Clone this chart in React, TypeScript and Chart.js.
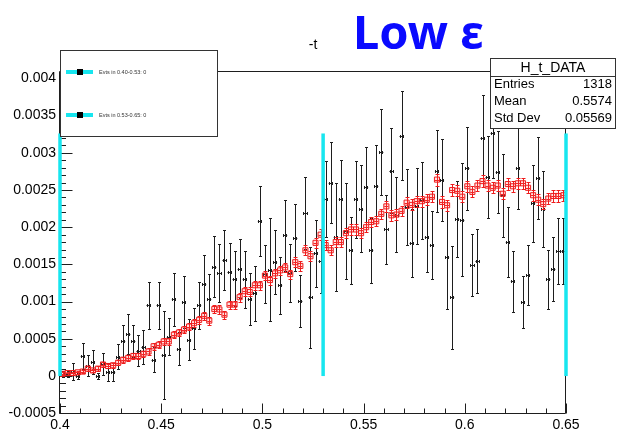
import React, { useEffect, useRef } from "react";
import { Chart, registerables } from "chart.js";

Chart.register(...registerables);

// Histogram binning of -t
const X_MIN = 0.4;
const X_MAX = 0.65;
const N_BINS = 100;
const Y_MIN = -0.00051;
const Y_MAX = 0.004086;
// bin contents below are stored in units of 1e-4
const UNIT = 1e-4;

// simulated distribution (red)
const MC_VALUES = [
  0.3, 0.4, 0.4, 0.5, 0.6, 1.0, 0.75, 1.0, 1.55, 1.35,
  1.45, 1.8, 2.2, 2.45, 2.7, 2.7, 3.0, 3.3, 4.0, 4.2,
  4.65, 4.65, 5.55, 5.85, 6.25, 6.65, 7.1, 7.55, 8.1, 7.45,
  9.0, 8.95, 8.25, 9.6, 9.6, 10.6, 11.4, 11.3, 12.2, 12.2,
  13.5, 12.9, 13.8, 14.2, 14.6, 13.7, 15.3, 14.8, 16.9, 16.1,
  17.9, 19.0, 17.6, 16.9, 18.0, 18.0, 19.2, 19.7, 19.7, 19.2,
  20.0, 20.7, 20.8, 21.8, 22.8, 21.6, 21.7, 22.2, 23.3, 23.0,
  23.5, 23.5, 23.7, 24.1, 26.4, 23.4, 22.95, 25.0, 24.9, 24.1,
  25.5, 24.75, 25.6, 26.2, 25.6, 25.3, 25.6, 24.5, 25.8, 25.5,
  25.9, 25.9, 25.3, 24.3, 23.7, 23.1, 23.85, 24.2, 24.2, 24.3,
];
const MC_ERRORS = [
  0.2, 0.2, 0.2, 0.2, 0.25, 0.3, 0.25, 0.3, 0.35, 0.3,
  0.35, 0.35, 0.4, 0.4, 0.4, 0.4, 0.4, 0.45, 0.45, 0.45,
  0.45, 0.45, 0.5, 0.5, 0.5, 0.5, 0.5, 0.55, 0.55, 0.55,
  0.55, 0.55, 0.55, 0.55, 0.55, 0.6, 0.6, 0.6, 0.6, 0.6,
  0.6, 0.6, 0.6, 0.65, 0.65, 0.6, 0.65, 0.65, 0.65, 0.65,
  0.65, 0.7, 0.65, 0.65, 0.65, 0.65, 0.7, 0.7, 0.7, 0.7,
  0.7, 0.7, 0.7, 0.7, 0.75, 0.7, 0.7, 0.7, 0.75, 0.75,
  0.75, 0.75, 0.75, 0.75, 0.8, 0.75, 0.75, 0.75, 0.75, 0.75,
  0.75, 0.75, 0.75, 0.8, 0.75, 0.75, 0.75, 0.75, 0.75, 0.75,
  0.75, 0.75, 0.75, 0.75, 0.75, 0.7, 0.75, 0.75, 0.75, 0.75,
];

// measured distribution (black)
const DATA_VALUES = [
  0.3, 0.3, 0.6, 0.0, 2.7, 1.4, 1.9, 0.0, 1.6, 0.5,
  0.5, 2.6, 4.7, 5.6, 4.7, 3.4, 3.9, 9.5, 2.2, 9.5,
  2.8, 5.3, 10.3, 3.7, 9.9, 4.9, 6.4, 9.5, 12.4, 10.3,
  14.7, 13.9, 15.6, 14.0, 13.1, 14.45, 13.0, 10.4, 11.1, 20.8,
  13.7, 14.3, 15.3, 12.2, 18.9, 13.8, 18.6, 10.1, 21.9, 10.6,
  16.5, 15.5, 23.8, 26.0, 18.7, 23.75, 19.5, 16.9, 23.75, 22.5,
  25.4, 16.9, 25.6, 30.1, 19.7, 27.6, 21.7, 32.3, 22.7, 17.9,
  22.8, 23.6, 18.7, 17.6, 27.6, 26.4, 16.0, 10.6, 21.1, 21.0,
  27.9, 14.9, 15.5, 32.0, 26.8, 32.6, 27.4, 24.3, 18.0, 12.75,
  28.0, 10.0, 13.6, 23.2, 26.6, 22.5, 13.0, 14.4, 16.8, 16.8,
];
const DATA_ERRORS = [
  0.4, 0.4, 1.1, 0.4, 1.7, 1.45, 1.6, 0.4, 1.45, 1.2,
  1.2, 1.7, 2.2, 2.7, 2.2, 2.1, 2.3, 3.2, 1.7, 3.2,
  5.9, 2.5, 3.6, 2.2, 3.5, 2.8, 2.7, 3.2, 3.9, 3.4,
  4.1, 3.9, 4.0, 3.9, 3.7, 4.0, 3.8, 3.5, 3.7, 4.7,
  3.9, 6.9, 4.3, 3.8, 4.8, 3.9, 4.5, 3.5, 4.8, 6.8,
  4.5, 4.3, 5.1, 5.4, 7.3, 5.3, 6.5, 4.5, 5.2, 5.8,
  5.4, 4.4, 5.4, 5.8, 4.6, 5.7, 5.0, 6.0, 5.1, 4.6,
  5.1, 5.2, 4.7, 4.6, 5.5, 5.5, 7.0, 6.9, 5.1, 7.6,
  5.6, 4.2, 4.3, 5.8, 5.5, 6.0, 5.5, 5.6, 4.7, 4.1,
  5.6, 3.5, 4.0, 5.2, 5.5, 5.1, 4.0, 4.25, 4.4, 4.4,
];

const X_TICKS = [0.4, 0.45, 0.5, 0.55, 0.6, 0.65];
const X_TICK_LABELS = ["0.4", "0.45", "0.5", "0.55", "0.6", "0.65"];
const Y_TICKS = [-0.0005, 0, 0.0005, 0.001, 0.0015, 0.002, 0.0025, 0.003, 0.0035, 0.004];
const Y_TICK_LABELS = ["-0.0005", "0", "0.0005", "0.001", "0.0015", "0.002", "0.0025", "0.003", "0.0035", "0.004"];

// -t range boundaries marked with vertical lines
const CUT_EDGES = [0.4, 0.53, 0.65];
const CUT_LINE_TOP = 0.00326;

const LEGEND_LABELS = ["Evts in 0.40-0.53: 0", "Evts in 0.53-0.65: 0"];
const STATS_TITLE = "H_t_DATA";
const STATS_ROWS = [
  ["Entries", "1318"],
  ["Mean", "0.5574"],
  ["Std Dev", "0.05569"],
];
const AXIS_TITLE = "-t";
const HEADLINE = "Low ε";

const BIN_WIDTH = (X_MAX - X_MIN) / N_BINS;
const BIN_CENTERS = Array.from({ length: N_BINS }, (_, i) => X_MIN + (i + 0.5) * BIN_WIDTH);

const FONT = "'Liberation Sans', Arial, Helvetica, sans-serif";
const CYAN = "#17e6ef";
const RED = "#ee1c1c";
const INK = "#1e1e1e";

const snap = (v: number) => Math.round(v) + 0.5;

// Draws ROOT-style error bars (vertical +-err, horizontal bin width) for datasets carrying errors
const errorBarPlugin = {
  id: "errorBars",
  beforeDatasetDraw(chart: any, args: any) {
    const ds = chart.data.datasets[args.index];
    if (!ds.errors) return;
    const xs = chart.scales.x;
    const ys = chart.scales.y;
    const ctx = chart.ctx;
    ctx.save();
    ctx.strokeStyle = ds.errColor;
    ctx.lineWidth = 1;
    ctx.beginPath();
    ds.data.forEach((p: any, i: number) => {
      const e = ds.errors[i];
      const px = snap(xs.getPixelForValue(p.x));
      const x0 = xs.getPixelForValue(p.x - BIN_WIDTH / 2);
      const x1 = xs.getPixelForValue(p.x + BIN_WIDTH / 2);
      const py = snap(ys.getPixelForValue(p.y));
      const top = snap(ys.getPixelForValue(p.y + e));
      const bot = snap(ys.getPixelForValue(p.y - e));
      const cap = ds.capHalf;
      ctx.moveTo(x0 + 0.5, py);
      ctx.lineTo(x1 - 0.5, py);
      if (ds.endTicks) {
        ctx.moveTo(snap(x0 + 0.6), py - 1.5);
        ctx.lineTo(snap(x0 + 0.6), py + 1.5);
        ctx.moveTo(snap(x1 - 1.4), py - 1.5);
        ctx.lineTo(snap(x1 - 1.4), py + 1.5);
      }
      ctx.moveTo(px, top);
      ctx.lineTo(px, bot);
      ctx.moveTo(px - cap, top);
      ctx.lineTo(px + cap, top);
      ctx.moveTo(px - cap, bot);
      ctx.lineTo(px + cap, bot);
    });
    ctx.stroke();
    ctx.restore();
  },
};

// Frame with inward-pointing major/minor tick marks
const framePlugin = {
  id: "rootFrame",
  beforeDatasetsDraw(chart: any) {
    const { ctx, chartArea } = chart;
    const xs = chart.scales.x;
    const ys = chart.scales.y;
    const l = snap(chartArea.left) - 1;
    const r = snap(chartArea.right) - 1;
    const t = snap(chartArea.top) - 1;
    const b = snap(chartArea.bottom) - 1;
    ctx.save();
    ctx.strokeStyle = INK;
    ctx.lineWidth = 1;
    ctx.beginPath();
    ctx.rect(l, t, r - l, b - t);
    for (let k = 40; k <= 65; k++) {
      const px = snap(xs.getPixelForValue(k / 100));
      const len = k % 5 === 0 ? 10 : 5;
      ctx.moveTo(px, b);
      ctx.lineTo(px, b - len);
    }
    for (let k = -5; k <= 40; k++) {
      const py = snap(ys.getPixelForValue(k * 1e-4));
      const len = k % 5 === 0 ? 13 : 6.5;
      ctx.moveTo(l, py);
      ctx.lineTo(l + len, py);
    }
    ctx.stroke();
    ctx.restore();
  },
};

// Legend box, statistics box and titles
const overlayPlugin = {
  id: "overlays",
  afterDraw(chart: any) {
    const ctx = chart.ctx;
    ctx.save();

    // legend
    ctx.fillStyle = "#ffffff";
    ctx.fillRect(60, 50, 158, 87);
    ctx.strokeStyle = "#333333";
    ctx.lineWidth = 1;
    ctx.strokeRect(60.5, 50.5, 157, 86);
    const legendY = [72, 115];
    LEGEND_LABELS.forEach((label, i) => {
      const y = legendY[i];
      ctx.strokeStyle = CYAN;
      ctx.lineWidth = 4;
      ctx.beginPath();
      ctx.moveTo(66, y);
      ctx.lineTo(93, y);
      ctx.stroke();
      ctx.fillStyle = "#000000";
      ctx.fillRect(77, y - 3, 6, 6);
      ctx.fillStyle = "#333333";
      ctx.font = `5.5px ${FONT}`;
      ctx.textAlign = "left";
      ctx.textBaseline = "middle";
      ctx.fillText(label, 99, y);
    });

    // statistics box
    ctx.fillStyle = "#ffffff";
    ctx.fillRect(490, 58, 126, 71);
    ctx.strokeStyle = "#333333";
    ctx.lineWidth = 1;
    ctx.strokeRect(490.5, 58.5, 125, 70);
    ctx.beginPath();
    ctx.moveTo(490.5, 76.5);
    ctx.lineTo(615.5, 76.5);
    ctx.stroke();
    ctx.fillStyle = "#000000";
    ctx.textBaseline = "middle";
    ctx.textAlign = "center";
    ctx.font = `14px ${FONT}`;
    ctx.fillText(STATS_TITLE, 553, 68);
    ctx.font = `13px ${FONT}`;
    STATS_ROWS.forEach(([name, val], i) => {
      const y = 84.5 + i * 17;
      ctx.textAlign = "left";
      ctx.fillText(name, 494, y);
      ctx.textAlign = "right";
      ctx.fillText(val, 612, y);
    });

    // axis title and headline
    ctx.textAlign = "center";
    ctx.textBaseline = "middle";
    ctx.font = `14px ${FONT}`;
    ctx.fillText(AXIS_TITLE, 313, 45);
    ctx.fillStyle = "#0a0aff";
    ctx.font = `bold 47px 'Noto Sans', 'DejaVu Sans', sans-serif`;
    ctx.textAlign = "left";
    ctx.textBaseline = "alphabetic";
    ctx.fillText(HEADLINE, 353, 49);

    ctx.restore();
  },
};

export default function App() {
  const canvasRef = useRef<HTMLCanvasElement | null>(null);

  useEffect(() => {
    const canvas = canvasRef.current;
    if (!canvas) return;

    const dataPoints = BIN_CENTERS.map((x, i) => ({ x, y: DATA_VALUES[i] * UNIT }));
    const mcPoints = BIN_CENTERS.map((x, i) => ({ x, y: MC_VALUES[i] * UNIT }));

    const cutDatasets = CUT_EDGES.map((edge) => ({
      type: "line",
      data: [
        { x: edge, y: 0 },
        { x: edge, y: CUT_LINE_TOP },
      ],
      borderColor: CYAN,
      borderWidth: 3.5,
      pointRadius: 0,
      showLine: true,
      clip: false,
      order: 1,
    }));

    const chart = new Chart(canvas, {
      type: "scatter",
      data: {
        datasets: [
          {
            data: dataPoints,
            pointRadius: 0,
            showLine: false,
            order: 3,
            errors: DATA_ERRORS.map((e) => e * UNIT),
            errColor: INK,
            capHalf: 1.5,
            endTicks: true,
          } as any,
          {
            data: mcPoints,
            pointStyle: "rect",
            pointRadius: 3.6,
            borderColor: RED,
            backgroundColor: "rgba(255,90,90,0.18)",
            borderWidth: 1,
            showLine: false,
            order: 2,
            errors: MC_ERRORS.map((e) => e * UNIT),
            errColor: RED,
            capHalf: 2,
            endTicks: false,
          } as any,
          ...(cutDatasets as any[]),
        ],
      },
      options: {
        responsive: false,
        animation: false,
        devicePixelRatio: 1,
        layout: { padding: { left: 0, right: 51, top: 72, bottom: 0 } },
        plugins: {
          legend: { display: false },
          title: { display: false },
          tooltip: { enabled: false },
        },
        events: [],
        scales: {
          x: {
            type: "linear",
            min: X_MIN,
            max: X_MAX,
            grid: { display: false, drawTicks: false },
            border: { display: false },
            afterBuildTicks: (s: any) => {
              s.ticks = X_TICKS.map((v) => ({ value: v }));
            },
            afterFit: (s: any) => {
              s.height = 18;
            },
            ticks: {
              callback: (_v: any, i: number) => X_TICK_LABELS[i],
              font: { family: FONT, size: 14 },
              color: "#000000",
              padding: 3,
              maxRotation: 0,
              autoSkip: false,
            },
          },
          y: {
            type: "linear",
            min: Y_MIN,
            max: Y_MAX,
            grid: { display: false, drawTicks: false },
            border: { display: false },
            afterBuildTicks: (s: any) => {
              s.ticks = Y_TICKS.map((v) => ({ value: v }));
            },
            afterFit: (s: any) => {
              s.width = 60;
            },
            ticks: {
              callback: (_v: any, i: number) => Y_TICK_LABELS[i],
              font: { family: FONT, size: 14 },
              color: "#000000",
              padding: 4,
              autoSkip: false,
            },
          },
        },
      } as any,
      plugins: [framePlugin, errorBarPlugin, overlayPlugin],
    });

    return () => chart.destroy();
  }, []);

  return (
    <div style={{ position: "absolute", left: 0, top: 0, width: 617, height: 432, background: "#ffffff" }}>
      <canvas ref={canvasRef} width={617} height={432} />
    </div>
  );
}
